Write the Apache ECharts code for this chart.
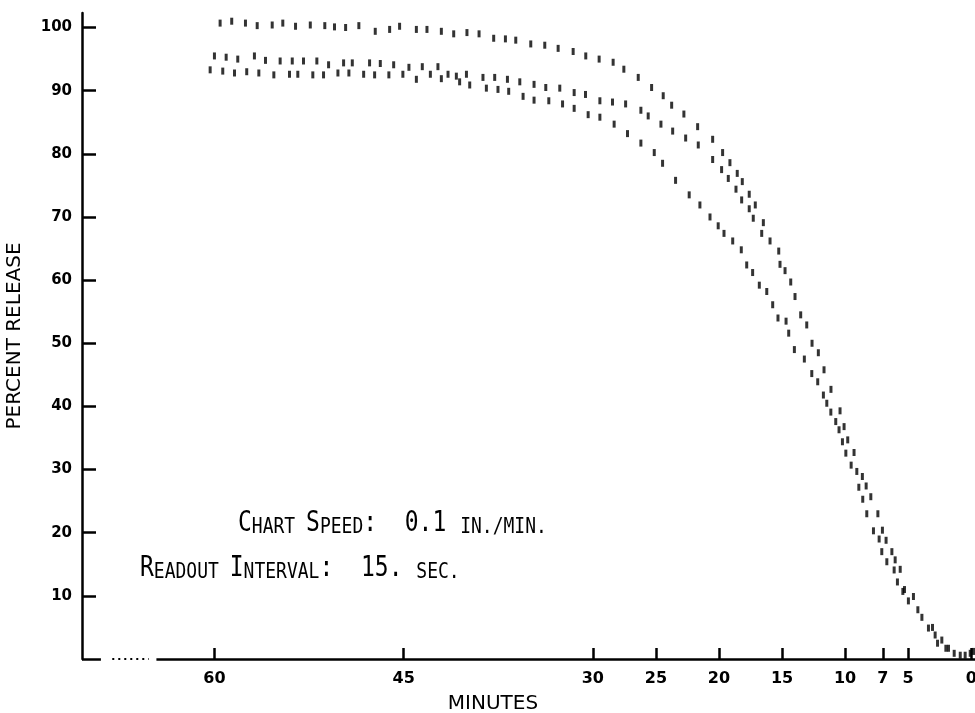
<!DOCTYPE html>
<html>
<head>
<meta charset="utf-8">
<title>Percent release</title>
<script src="https://cdn.jsdelivr.net/npm/echarts@6.0.0/dist/echarts.min.js"></script>
<style>
  html, body { margin: 0; padding: 0; background: #fff; }
  #chart { width: 975px; height: 713px; }
</style>
</head>
<body>
<div id="chart"></div>
<script>
// tick labels
const minuteTicks = [60, 45, 30, 25, 20, 15, 10, 7, 5, 0];
const percentTicks = [10, 20, 30, 40, 50, 60, 70, 80, 90, 100];

// [minutes, percent release]
const topTrace = [
  [59.55, 100.7], [58.63, 101.0], [57.54, 100.7], [56.61, 100.3], [55.42, 100.4], [54.58, 100.7],
  [53.57, 100.2], [52.40, 100.4], [51.25, 100.3], [50.48, 100.1], [49.60, 100.0], [48.55, 100.3],
  [47.25, 99.4], [46.11, 99.7], [45.32, 100.2], [43.99, 99.7], [43.15, 99.7], [42.01, 99.4],
  [41.03, 99.0], [39.98, 99.2], [39.02, 99.0], [37.86, 98.3], [36.93, 98.2], [36.11, 98.0],
  [34.92, 97.4], [33.81, 97.2], [32.75, 96.7], [31.56, 96.2], [30.56, 95.5], [29.50, 95.0],
  [28.39, 94.5], [27.54, 93.4], [26.40, 92.1], [25.34, 90.5], [24.42, 89.2], [23.75, 87.7],
  [22.78, 86.3], [21.69, 84.3], [20.50, 82.3], [19.71, 80.2], [19.13, 78.6], [18.55, 76.9],
  [18.15, 75.6], [17.60, 73.6], [17.12, 71.9], [16.48, 69.1], [15.95, 66.2], [15.16, 62.5],
  [14.31, 59.7], [13.52, 54.5], [12.62, 50.0], [11.67, 45.8], [10.40, 39.3], [9.79, 34.7],
  [8.63, 28.9], [7.96, 25.7], [7.04, 20.4], [6.29, 17.0], [5.63, 14.2], [4.58, 9.9],
  [3.39, 4.9], [2.67, 2.5], [1.80, 1.7], [0.48, 0.6]
];
const middleTrace = [
  [60.00, 95.5], [59.07, 95.3], [58.15, 95.0], [56.83, 95.5], [55.95, 94.8], [54.79, 94.7],
  [53.83, 94.7], [52.94, 94.7], [51.88, 94.7], [50.95, 94.1], [49.76, 94.4], [49.07, 94.4],
  [47.70, 94.4], [46.85, 94.3], [45.79, 94.1], [44.58, 93.7], [43.52, 93.8], [42.28, 93.8],
  [41.48, 92.6], [40.82, 92.3], [40.02, 92.6], [38.71, 92.1], [37.78, 92.1], [36.77, 91.8],
  [35.79, 91.4], [34.66, 91.0], [33.73, 90.5], [32.62, 90.4], [31.48, 89.7], [30.58, 89.4],
  [29.44, 88.4], [28.44, 88.2], [27.40, 87.9], [26.19, 86.9], [25.61, 86.0], [24.60, 84.7],
  [23.67, 83.6], [22.64, 82.5], [21.64, 81.4], [20.50, 79.1], [19.79, 77.5], [19.26, 76.1],
  [18.65, 74.4], [18.20, 72.7], [17.60, 71.3], [17.28, 69.8], [16.61, 67.4], [15.26, 64.6],
  [14.76, 61.5], [13.97, 57.4], [13.04, 52.9], [12.12, 48.5], [11.12, 42.7], [10.08, 36.8],
  [9.29, 32.7], [8.33, 27.4], [7.40, 23.0], [6.75, 18.8], [6.03, 15.7], [5.29, 11.0],
  [3.91, 6.6], [2.86, 3.8], [2.01, 1.7], [0.87, 0.6], [-0.18, 1.2]
];
const lowerTrace = [
  [60.34, 93.3], [59.34, 93.1], [58.41, 92.8], [57.44, 93.0], [56.48, 92.8], [55.29, 92.5],
  [54.05, 92.6], [53.39, 92.6], [52.20, 92.5], [51.35, 92.5], [50.21, 92.8], [49.34, 92.8],
  [48.17, 92.6], [47.30, 92.5], [46.17, 92.5], [45.06, 92.6], [43.99, 91.8], [42.88, 92.6],
  [42.01, 91.9], [40.56, 91.4], [39.76, 90.9], [38.44, 90.4], [37.52, 90.2], [36.67, 89.9],
  [35.53, 89.1], [34.66, 88.5], [33.49, 88.4], [32.40, 87.9], [31.48, 87.2], [30.37, 86.2],
  [29.44, 85.8], [28.31, 84.7], [27.25, 83.2], [26.19, 81.7], [25.13, 80.2], [24.47, 78.5],
  [23.44, 75.8], [22.36, 73.5], [21.51, 71.9], [20.71, 70.0], [20.06, 68.6], [19.60, 67.4],
  [18.91, 66.2], [18.23, 64.8], [17.80, 62.4], [17.33, 61.2], [16.80, 59.2], [16.21, 58.2],
  [15.74, 56.1], [15.32, 54.0], [14.68, 53.5], [14.47, 51.6], [14.02, 49.0], [13.23, 47.5],
  [12.64, 45.2], [12.17, 43.9], [11.72, 41.8], [11.45, 40.5], [11.13, 39.1], [10.74, 37.6],
  [10.48, 36.3], [10.21, 34.4], [9.94, 32.6], [9.52, 30.7], [9.07, 29.7], [8.91, 27.2],
  [8.60, 25.3], [8.28, 23.0], [7.75, 20.3], [7.30, 19.0], [7.09, 17.0], [6.69, 15.4],
  [6.11, 14.1], [5.85, 12.2], [5.42, 10.7], [4.98, 9.2], [4.23, 7.8], [3.07, 5.0],
  [2.33, 3.0], [1.35, 0.9], [0.08, 0.9]
];

const ink = "#000";
const bigCap = { fontFamily: "DejaVu Sans Mono", fontSize: 23, verticalAlign: "bottom", fill: ink };
const smallCap = { fontFamily: "DejaVu Sans Mono", fontSize: 18, verticalAlign: "bottom", fill: ink };

function dashSeries(name, data) {
  return {
    name: name,
    type: "scatter",
    data: data,
    symbol: "rect",
    symbolSize: [3, 7],
    itemStyle: { color: ink },
    clip: false,
    silent: true,
  };
}

const chart = echarts.init(document.getElementById("chart"), null, { renderer: "canvas" });

const series = [
  dashSeries("top", topTrace),
  dashSeries("middle", middleTrace),
  dashSeries("lower", lowerTrace),
];
// x axis line, drawn in pieces: the recorder trace has a dotted gap near the origin
series[2].markLine = {
  silent: true,
  symbol: ["none", "none"],
  label: { show: false },
  lineStyle: { color: ink, width: 2.5, type: "solid" },
  data: [
    [{ coord: [70.5, 0] }, { coord: [69.0, 0] }],
    [{ coord: [68.1, 0], lineStyle: { type: [2, 4], width: 2 } }, { coord: [65.2, 0] }],
    [{ coord: [64.6, 0] }, { coord: [-0.3, 0] }],
  ],
};

chart.setOption({
  animation: false,
  backgroundColor: "#fff",
  grid: { left: 82, right: 0, top: 13, bottom: 54, containLabel: false, outerBoundsMode: "none" },
  xAxis: {
    type: "value",
    inverse: true,
    min: -0.3,
    max: 70.5,
    axisLine: { show: false },
    splitLine: { show: false },
    axisTick: {
      inside: true,
      length: 11,
      customValues: minuteTicks,
      lineStyle: { color: ink, width: 2.5 },
    },
    axisLabel: {
      customValues: minuteTicks,
      margin: 12,
      color: ink,
      fontFamily: "DejaVu Sans",
      fontWeight: "bold",
      fontSize: 16,
    },
  },
  yAxis: {
    type: "value",
    min: 0,
    max: 102.3,
    name: "PERCENT RELEASE",
    nameLocation: "middle",
    nameGap: 57,
    nameTextStyle: { color: ink, fontFamily: "DejaVu Sans", fontSize: 20 },
    axisLine: { show: true, onZero: false, lineStyle: { color: ink, width: 2.5 } },
    splitLine: { show: false },
    axisTick: {
      inside: true,
      length: 14,
      customValues: percentTicks,
      lineStyle: { color: ink, width: 2.5 },
    },
    axisLabel: {
      customValues: percentTicks,
      margin: 10,
      color: ink,
      fontFamily: "DejaVu Sans",
      fontWeight: "bold",
      fontSize: 15,
    },
  },
  graphic: [
    {
      type: "text",
      x: 493,
      y: 704,
      silent: true,
      style: {
        text: "MINUTES",
        align: "center",
        verticalAlign: "middle",
        fill: ink,
        fontFamily: "DejaVu Sans",
        fontSize: 20,
      },
    },
    {
      type: "text",
      x: 238,
      y: 538,
      scaleY: 1.2,
      silent: true,
      style: {
        text: "{b|C}{s|HART }{b|S}{s|PEED}{b|:  0.1 }{s|IN./MIN.}",
        verticalAlign: "bottom",
        fill: ink,
        rich: { b: bigCap, s: smallCap },
      },
    },
    {
      type: "text",
      x: 140,
      y: 583,
      scaleY: 1.2,
      silent: true,
      style: {
        text: "{b|R}{s|EADOUT }{b|I}{s|NTERVAL}{b|:  15. }{s|SEC.}",
        verticalAlign: "bottom",
        fill: ink,
        rich: { b: bigCap, s: smallCap },
      },
    },
  ],
  series: series,
});
</script>
</body>
</html>
